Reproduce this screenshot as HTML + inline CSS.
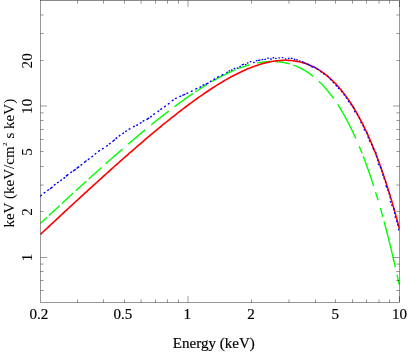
<!DOCTYPE html>
<html><head><meta charset="utf-8"><title>plot</title>
<style>
html,body{margin:0;padding:0;background:#fff;}
body{width:415px;height:352px;overflow:hidden;}
svg{display:block;will-change:transform;}
text{font-family:"Liberation Serif",serif;font-size:15.05px;fill:#000;stroke:#000;stroke-width:0.18px;}
text.r{stroke-width:0.05px;}
</style></head><body>
<svg width="415" height="352" viewBox="0 0 415 352">
<rect width="415" height="352" fill="#fff"/>
<defs><clipPath id="c"><rect x="40.2" y="0.5" width="359.5" height="302"/></clipPath></defs>
<g fill="none" stroke-linejoin="round" clip-path="url(#c)">
<path d="M40.5 223.34L41.22 222.67L41.94 222L42.65 221.34L43.37 220.67L44.09 220L44.81 219.33L45.53 218.66L46.25 218L46.96 217.33M48.88 215.55L49.6 214.88L50.32 214.22L51.03 213.55L51.75 212.89L52.47 212.22L53.19 211.55L53.91 210.89L54.63 210.22L55.34 209.56L56.06 208.9L56.78 208.23L57.5 207.57L58.22 206.9L58.93 206.24L59.65 205.58M61.81 203.59L62.53 202.93L63.24 202.27L63.96 201.6L64.68 200.94L65.4 200.28L66.12 199.62L66.84 198.96L67.55 198.3L68.27 197.64L68.99 196.98L69.71 196.32L70.43 195.66L71.14 195.01L71.86 194.35L72.58 193.69L73.3 193.03M75.69 190.84L76.41 190.19L77.13 189.53L77.85 188.88L78.57 188.22L79.28 187.57L80 186.91L80.72 186.26L81.44 185.6L82.16 184.95L82.88 184.3L83.59 183.65L84.31 182.99L85.03 182.34L85.75 181.69L86.35 181.15M88.62 179.09L89.34 178.44L90.06 177.79L90.78 177.15L91.49 176.5L92.21 175.85L92.93 175.2L93.65 174.56L94.37 173.91L95.09 173.27L95.8 172.62L96.52 171.98L97.24 171.33L97.96 170.69L98.68 170.05L99.4 169.4L100.11 168.76L100.83 168.12L101.55 167.48M105.74 163.75L106.46 163.11L107.18 162.48L107.89 161.84L108.61 161.21L109.33 160.57L110.05 159.94L110.77 159.3L111.49 158.67L112.2 158.04L112.92 157.41L113.64 156.78L114.36 156.15L115.08 155.52L115.8 154.89L116.51 154.26L117.23 153.63L117.95 153L118.67 152.38L119.39 151.75L120.1 151.13L120.82 150.5L121.54 149.88L122.26 149.26L122.62 148.95M128.13 144.2L128.84 143.59L129.56 142.97L130.28 142.36L131 141.74L131.72 141.13L132.43 140.52L133.15 139.91L133.87 139.3L134.59 138.69L135.31 138.09L136.03 137.48L136.74 136.87L137.46 136.27L138.18 135.66L138.9 135.06L139.62 134.46L140.34 133.86L141.05 133.26L141.77 132.66L142.49 132.06L143.21 131.46L143.93 130.87L144.64 130.27L145.36 129.68M151.23 124.87L151.95 124.29L152.67 123.71L153.38 123.13L154.1 122.55L154.82 121.97L155.54 121.39L156.26 120.82L156.97 120.24L157.69 119.67L158.41 119.1L159.13 118.53L159.85 117.96L160.57 117.39L161.28 116.82L162 116.26L162.72 115.69L163.44 115.13L164.16 114.57L164.88 114.01L165.59 113.45L166.31 112.9L167.03 112.34L167.75 111.79L168.47 111.24L168.83 110.96M174.33 106.79L175.05 106.25L175.77 105.72L176.49 105.19L177.2 104.65L177.92 104.12L178.64 103.6L179.36 103.07L180.08 102.55L180.8 102.02L181.51 101.5L182.23 100.98L182.95 100.47L183.67 99.95L184.39 99.44L185.11 98.93L185.82 98.42L186.54 97.91L187.26 97.41L187.98 96.91L188.7 96.41L189.41 95.91L190.13 95.41L190.85 94.92L191.57 94.43L192.29 93.94L192.89 93.53M195.28 91.92L196 91.45L196.72 90.97L197.44 90.5L198.15 90.03L198.87 89.56L199.59 89.1L200.31 88.63L201.03 88.17L201.74 87.72L202.46 87.26L203.18 86.81L203.9 86.36L204.62 85.91L205.34 85.47L206.05 85.03L206.77 84.59M212.04 81.46L212.76 81.05L213.48 80.63L214.19 80.23L214.91 79.82L215.63 79.42L216.35 79.02L217.07 78.63L217.79 78.24L218.5 77.85L219.22 77.46L219.94 77.08L220.66 76.7L221.38 76.33L222.09 75.96L222.81 75.59L223.53 75.23L224.25 74.87L224.97 74.51L225.69 74.16L226.4 73.81L227.12 73.46L227.84 73.12L228.56 72.78L229.28 72.45L230 72.12L230.71 71.79L231.43 71.47L232.15 71.16L232.87 70.84L233.59 70.53L234.3 70.23L235.02 69.93L235.62 69.68M238.14 68.68L238.85 68.4L239.57 68.13L240.29 67.86L241.01 67.59L241.73 67.34L242.44 67.08L243.16 66.83L243.88 66.59L244.6 66.35L245.32 66.12L246.04 65.89L246.75 65.66L247.47 65.45L248.19 65.23L248.91 65.02L249.15 64.96M256.93 63.07L257.65 62.93L258.37 62.8L259.08 62.67L259.8 62.55L260.52 62.44L261.24 62.33L261.96 62.23L262.68 62.13L263.39 62.04L264.11 61.96L264.83 61.88L265.55 61.81L266.27 61.75L266.98 61.69L267.7 61.64L268.42 61.6L269.14 61.57L269.86 61.54L270.58 61.52L271.29 61.51L272.01 61.5L272.13 61.5M275.12 61.56L275.84 61.6L276.56 61.64L277.28 61.69L278 61.75L278.72 61.81L279.43 61.89L280.15 61.97L280.87 62.06L281.59 62.16L282.31 62.27L283.03 62.39L283.74 62.51L284.46 62.65L285.18 62.79L285.9 62.94L286.62 63.11L287.33 63.28L288.05 63.46L288.77 63.64L289.49 63.84L289.73 63.91M293.32 65.06L294.04 65.32L294.76 65.6L295.47 65.88L296.19 66.17L296.91 66.47L297.63 66.78L298.35 67.1L299.07 67.44L299.78 67.78L300.5 68.14L301.22 68.5L301.94 68.88L302.66 69.27L303.38 69.67L304.09 70.08L304.81 70.51L305.53 70.94L306.25 71.39L306.97 71.85L307.69 72.32L308.4 72.8L309.12 73.3L309.84 73.81L310.56 74.33L311.28 74.86L311.99 75.41L312.71 75.97L313.43 76.54M318.82 81.26L319.54 81.95L320.25 82.65L320.97 83.37L321.69 84.1L322.41 84.84L323.13 85.61L323.85 86.38L324.56 87.17L325.28 87.98L326 88.8L326.72 89.64L327.44 90.49L328.15 91.36L328.87 92.25L329.59 93.15L330.31 94.07L331.03 95L331.75 95.95L332.46 96.92L333.18 97.9L333.66 98.57M337.61 104.35L338.33 105.46L339.05 106.59L339.77 107.73L340.48 108.9L341.2 110.08L341.92 111.28L342.64 112.5L343.36 113.74L344.08 115L344.79 116.28L345.51 117.58L346.23 118.9L346.95 120.24L347.67 121.6L348.39 122.98L349.1 124.38L349.82 125.8L350.54 127.24L351.26 128.7L351.98 130.19L352.69 131.69L353.41 133.22L354.13 134.77L354.85 136.34L355.57 137.93L355.81 138.47M359.16 146.24L359.88 147.97L360.6 149.72L361.31 151.5L362.03 153.3M363.23 156.36L363.95 158.23L364.67 160.12L365.38 162.04L366.1 163.98L366.82 165.95L367.54 167.94L368.26 169.96L368.97 172.01L369.69 174.08L370.41 176.18L371.13 178.3L371.85 180.46L372.57 182.63L373.28 184.84L373.64 185.95M375.56 192.01L376.28 194.34L377 196.69L377.71 199.07L378.07 200.27M380.35 208.05L381.07 210.57L381.78 213.12L382.5 215.7L382.86 217M384.06 221.39L384.78 224.07L385.49 226.78L386.21 229.52L386.93 232.29L387.65 235.1L388.37 237.94L389.09 240.81L389.8 243.72L390.52 246.65L391.24 249.63L391.96 252.63L392.68 255.67L393.39 258.75L394.11 261.85L394.83 265L395.31 267.12M396.99 274.65L397.7 277.94L398.42 281.26L399.14 284.62" stroke="#00ff00" stroke-width="1.4"/>
<path d="M40.5 234.35 L42 232.95 L43.5 231.54 L45.01 230.14 L46.51 228.73 L48.01 227.33 L49.51 225.93 L51.01 224.53 L52.52 223.13 L54.02 221.73 L55.52 220.33 L57.02 218.93 L58.53 217.54 L60.03 216.14 L61.53 214.74 L63.03 213.35 L64.53 211.96 L66.04 210.57 L67.54 209.17 L69.04 207.78 L70.54 206.4 L72.04 205.01 L73.55 203.62 L75.05 202.24 L76.55 200.85 L78.05 199.47 L79.55 198.09 L81.06 196.71 L82.56 195.33 L84.06 193.95 L85.56 192.57 L87.06 191.2 L88.57 189.83 L90.07 188.45 L91.57 187.08 L93.07 185.71 L94.58 184.35 L96.08 182.98 L97.58 181.62 L99.08 180.26 L100.58 178.9 L102.09 177.54 L103.59 176.18 L105.09 174.83 L106.59 173.48 L108.09 172.13 L109.6 170.78 L111.1 169.43 L112.6 168.09 L114.1 166.75 L115.6 165.41 L117.11 164.07 L118.61 162.73 L120.11 161.4 L121.61 160.07 L123.12 158.75 L124.62 157.42 L126.12 156.1 L127.62 154.78 L129.12 153.47 L130.63 152.15 L132.13 150.84 L133.63 149.54 L135.13 148.23 L136.63 146.93 L138.14 145.64 L139.64 144.34 L141.14 143.05 L142.64 141.77 L144.14 140.48 L145.65 139.2 L147.15 137.93 L148.65 136.66 L150.15 135.39 L151.65 134.13 L153.16 132.87 L154.66 131.62 L156.16 130.37 L157.66 129.12 L159.17 127.88 L160.67 126.64 L162.17 125.41 L163.67 124.19 L165.17 122.97 L166.68 121.75 L168.18 120.54 L169.68 119.34 L171.18 118.14 L172.68 116.94 L174.19 115.76 L175.69 114.58 L177.19 113.4 L178.69 112.23 L180.19 111.07 L181.7 109.92 L183.2 108.77 L184.7 107.63 L186.2 106.49 L187.71 105.37 L189.21 104.25 L190.71 103.14 L192.21 102.03 L193.71 100.94 L195.22 99.85 L196.72 98.77 L198.22 97.7 L199.72 96.64 L201.22 95.59 L202.73 94.55 L204.23 93.51 L205.73 92.49 L207.23 91.47 L208.73 90.47 L210.24 89.48 L211.74 88.5 L213.24 87.52 L214.74 86.56 L216.24 85.61 L217.75 84.68 L219.25 83.75 L220.75 82.84 L222.25 81.94 L223.76 81.05 L225.26 80.18 L226.76 79.32 L228.26 78.47 L229.76 77.63 L231.27 76.82 L232.77 76.01 L234.27 75.22 L235.77 74.45 L237.27 73.69 L238.78 72.95 L240.28 72.22 L241.78 71.51 L243.28 70.82 L244.78 70.15 L246.29 69.49 L247.79 68.86 L249.29 68.24 L250.79 67.64 L252.29 67.06 L253.8 66.5 L255.3 65.96 L256.8 65.44 L258.3 64.95 L259.81 64.47 L261.31 64.02 L262.81 63.59 L264.31 63.19 L265.81 62.81 L267.32 62.45 L268.82 62.12 L270.32 61.81 L271.82 61.53 L273.32 61.28 L274.83 61.05 L276.33 60.86 L277.83 60.69 L279.33 60.55 L280.83 60.44 L282.34 60.36 L283.84 60.32 L285.34 60.3 L286.84 60.32 L288.35 60.37 L289.85 60.45 L291.35 60.57 L292.85 60.73 L294.35 60.92 L295.86 61.15 L297.36 61.41 L298.86 61.72 L300.36 62.06 L301.86 62.45 L303.37 62.88 L304.87 63.34 L306.37 63.86 L307.87 64.41 L309.37 65.01 L310.88 65.66 L312.38 66.35 L313.88 67.09 L315.38 67.88 L316.88 68.72 L318.39 69.61 L319.89 70.55 L321.39 71.54 L322.89 72.59 L324.4 73.69 L325.9 74.85 L327.4 76.07 L328.9 77.34 L330.4 78.68 L331.91 80.07 L333.41 81.53 L334.91 83.05 L336.41 84.63 L337.91 86.28 L339.42 88 L340.92 89.78 L342.42 91.64 L343.92 93.56 L345.42 95.56 L346.93 97.63 L348.43 99.78 L349.93 102 L351.43 104.31 L352.94 106.69 L354.44 109.15 L355.94 111.69 L357.44 114.32 L358.94 117.03 L360.45 119.84 L361.95 122.73 L363.45 125.71 L364.95 128.78 L366.45 131.95 L367.96 135.21 L369.46 138.57 L370.96 142.03 L372.46 145.59 L373.96 149.25 L375.47 153.02 L376.97 156.89 L378.47 160.87 L379.97 164.97 L381.47 169.17 L382.98 173.49 L384.48 177.92 L385.98 182.48 L387.48 187.15 L388.99 191.95 L390.49 196.87 L391.99 201.92 L393.49 207.1 L394.99 212.4 L396.5 217.85 L398 223.42 L399.5 229.14" stroke="#ff0000" stroke-width="1.6"/>
<path d="M39.74 196.4l1.61 -1.19M44.22 192.91l0.6 -0.45M47.84 190.24l0.6 -0.46M50.45 188.53l1.59 -1.22M54.44 184.93l0.59 -0.46M57.62 182.67l0.59 -0.46M60.86 180.43l0.59 -0.46M64 178.16l0.6 -0.46M66.32 175.87l1.59 -1.21M70.95 172.45l0.6 -0.45M73.57 170.75l1.6 -1.2M77.09 168.05l1.6 -1.2M81.06 165.08l0.6 -0.45M84.47 162.24l1.59 -1.21M88.4 159.36l0.6 -0.46M91.9 156.72l0.59 -0.46M95.21 154.02l0.59 -0.47M98.77 151.2l0.6 -0.45M102.51 148.84l0.62 -0.41M106.67 145.99l0.62 -0.42M109.53 143.85l0.6 -0.45M112.87 141.3l1.54 -1.27M116.12 138.37l0.58 -0.48M119.31 135.89l0.59 -0.46M122.86 133.49l0.61 -0.43M125.79 131.4l0.63 -0.4M129.19 129.24l0.65 -0.38M133.61 126.64l0.66 -0.36M136.76 125.26l0.66 -0.36M140.35 123.06l0.65 -0.37M143.17 121.1l0.64 -0.39M147.02 119.28l1.66 -1.11M150.66 116.86l0.62 -0.43M153.78 114.26l0.61 -0.43M158.06 111.45l0.61 -0.43M160.86 109.27l0.61 -0.43M164.67 106.7l0.6 -0.44M168.41 103.91l0.59 -0.46M172.35 100.57l0.61 -0.44M175.55 98.52l0.66 -0.35M179.97 96.5l0.7 -0.28M182.94 95.19l1.84 -0.79M187.04 93.42l0.68 -0.31M191.43 91.34l0.67 -0.33M195.85 88.92l0.67 -0.34M200.08 87.12l0.66 -0.35M203.15 85.23l0.66 -0.36M206.21 84.14l1.75 -0.96M210.48 81.51l0.66 -0.36M214.04 79.37l0.66 -0.36M217.75 77.09l0.66 -0.36M222.05 75.06l0.66 -0.35" stroke="#0000ff" stroke-width="1.45" stroke-linecap="round"/>
<path d="M226.72 72.52l0.45 -0.23M229.05 71.01l0.45 -0.22M231.54 70.07l0.45 -0.22M234.28 68.63l0.45 -0.21M237.35 68.22l0.46 -0.2M239.91 66.63l0.46 -0.19M242.13 64.78l1.3 -0.51M245.44 64.51l0.47 -0.17M247.49 63.01l0.47 -0.16M250.32 61.86l0.48 -0.15M253.77 62.49l0.48 -0.13M256.45 60.7l0.49 -0.12M258.52 60.33l1.37 -0.29M262.14 59.68l0.49 -0.09M264.91 59.31l0.49 -0.07M267.81 58.25l0.5 -0.05M270.79 59.02l0.5 -0.04M273.16 57.74l0.5 -0.02M275.68 58.35l0.5 -0.01M278.96 57.85l0.5 0.01M282.3 57.65l0.5 0.03M285.34 58.92l0.5 0.05M288.46 58.42l0.5 0.07M291.55 58.26l0.49 0.09M294.31 59.25l0.49 0.12M296.81 59.69l0.48 0.13M299.37 60.84l0.48 0.15M302.54 61.67l0.47 0.18M304.63 62.9l0.47 0.18M307.09 63.98l1.28 0.57M309.99 65.34l0.45 0.22M311.89 66.82l0.44 0.24M314.42 67l1.2 0.72M317.07 68.75l1.17 0.76M320.92 71.7l0.41 0.28M323.74 73.91l0.4 0.3M327.72 76.18l0.38 0.32M330.53 79.42l0.37 0.34M333.14 82.38l0.35 0.36M336.08 85.55l0.34 0.37M338.46 88.19l0.33 0.38M341.54 91.26l0.31 0.39M344.05 94.6l0.3 0.4M346.24 97.79l0.29 0.41M348.51 101.27l0.28 0.41M350.92 104.25l0.27 0.42M353.13 107.04l0.73 1.2M354.63 111.36l0.25 0.43M357.19 114.09l0.24 0.44M359.25 118.02l0.24 0.44M360.9 122.16l0.23 0.44M363.1 125.84l0.22 0.45M364.19 129.57l0.22 0.45M366.91 132.82l0.21 0.45M368.05 137.23l0.2 0.46M369.44 140.86l0.2 0.46M371.72 144.44l0.19 0.46M373.14 148.17l0.53 1.3M375.87 152.4l0.18 0.47M376.4 156.18l0.18 0.47M377.87 160.3l0.17 0.47M378.38 164.11l0.17 0.47M380.39 166.77l0.47 1.32M381.78 170.82l0.16 0.47M382.91 174.75l0.16 0.47M384.03 178.26l0.16 0.47M385.56 181.91l0.16 0.48M386.12 185.75l0.42 1.33M387.9 190.16l0.15 0.48M389.14 193.62l0.15 0.48M390.08 197.22l0.14 0.48M390.36 201.6l0.14 0.48M391.77 205.18l0.14 0.48M393.77 208.48l0.38 1.35M394.51 212.81l0.13 0.48M395.17 216.81l0.13 0.48M396.66 221.05l0.13 0.48M397.87 224.77l0.13 0.48M398.6 229.4l0.2 0.5" stroke="#0000ff" stroke-width="1.35" stroke-linecap="round"/>
</g>
<g fill="none" stroke="#000" stroke-width="0.4">
<rect x="40.5" y="0.5" width="359" height="302"/>
<path d="M77.5 302.5L77.5 299.3M77.5 0.5L77.5 3.7M103.5 302.5L103.5 299.3M103.5 0.5L103.5 3.7M124.5 302.5L124.5 299.3M124.5 0.5L124.5 3.7M141.11 302.5L141.11 299.3M141.11 0.5L141.11 3.7M155.5 302.5L155.5 299.3M155.5 0.5L155.5 3.7M167.5 302.5L167.5 299.3M167.5 0.5L167.5 3.7M178.5 302.5L178.5 299.3M178.5 0.5L178.5 3.7M188.03 302.5L188.03 296M188.03 0.5L188.03 7M251.5 302.5L251.5 299.3M251.5 0.5L251.5 3.7M288.94 302.5L288.94 299.3M288.94 0.5L288.94 3.7M315.5 302.5L315.5 299.3M315.5 0.5L315.5 3.7M335.5 302.5L335.5 299.3M335.5 0.5L335.5 3.7M352.5 302.5L352.5 299.3M352.5 0.5L352.5 3.7M366.5 302.5L366.5 299.3M366.5 0.5L366.5 3.7M379.04 302.5L379.04 299.3M379.04 0.5L379.04 3.7M389.5 302.5L389.5 299.3M389.5 0.5L389.5 3.7M399.5 302.5L399.5 296M399.5 0.5L399.5 7M40.5 290.5L43.7 290.5M399.5 290.5L396.3 290.5M40.5 280.5L43.7 280.5M399.5 280.5L396.3 280.5M40.5 271.5L43.7 271.5M399.5 271.5L396.3 271.5M40.5 264.1L43.7 264.1M399.5 264.1L396.3 264.1M40.5 257.5L47 257.5M399.5 257.5L393 257.5M40.5 211.5L43.7 211.5M399.5 211.5L396.3 211.5M40.5 185.04L43.7 185.04M399.5 185.04L396.3 185.04M40.5 166.5L43.7 166.5M399.5 166.5L396.3 166.5M40.5 151.5L43.7 151.5M399.5 151.5L396.3 151.5M40.5 139.5L43.7 139.5M399.5 139.5L396.3 139.5M40.5 129.5L43.7 129.5M399.5 129.5L396.3 129.5M40.5 120.5L43.7 120.5M399.5 120.5L396.3 120.5M40.5 112.9L43.7 112.9M399.5 112.9L396.3 112.9M40.5 105.98L47 105.98M399.5 105.98L393 105.98M40.5 60.5L43.7 60.5M399.5 60.5L396.3 60.5M40.5 33.5L43.7 33.5M399.5 33.5L396.3 33.5M40.5 14.95L43.7 14.95M399.5 14.95L396.3 14.95"/>
<path d="M40.3 0.5H399.7" stroke-width="0.1"/>
</g>
<g>
<text x="38.8" y="319.3" text-anchor="middle">0.2</text>
<text x="122.96" y="319.3" text-anchor="middle">0.5</text>
<text x="187.33" y="319.3" text-anchor="middle">1</text>
<text x="250.9" y="319.3" text-anchor="middle">2</text>
<text x="335.16" y="319.3" text-anchor="middle">5</text>
<text x="399.43" y="319.3" text-anchor="middle">10</text>
<text class="r" transform="translate(31.6 257.58) rotate(-90)" text-anchor="middle">1</text>
<text class="r" transform="translate(31.6 212.07) rotate(-90)" text-anchor="middle">2</text>
<text class="r" transform="translate(31.6 151.9) rotate(-90)" text-anchor="middle">5</text>
<text class="r" transform="translate(31.6 106.38) rotate(-90)" text-anchor="middle">10</text>
<text class="r" transform="translate(31.6 60.87) rotate(-90)" text-anchor="middle">20</text>
<text x="172.8" y="347.6">Energy (keV)</text>
<text class="r" transform="translate(14.0 227.6) rotate(-90)">keV (keV/cm<tspan dy="-6.9" dx="0.3" font-size="7">2</tspan><tspan dy="6.9" dx="0.3"> s keV)</tspan></text>
</g>
</svg>
</body></html>
